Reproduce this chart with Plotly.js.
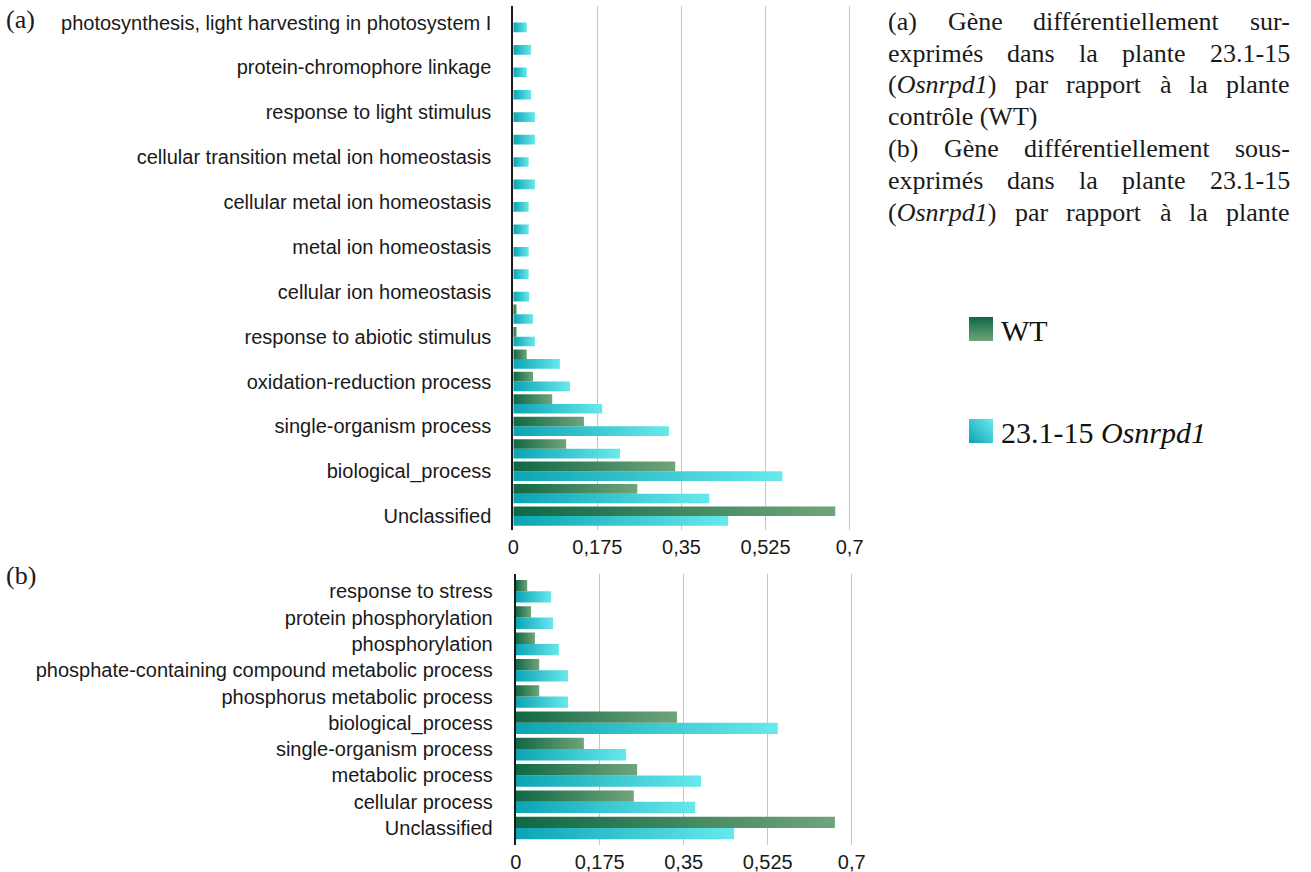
<!DOCTYPE html>
<html>
<head>
<meta charset="utf-8">
<script src="https://cdn.plot.ly/plotly-3.0.1.min.js"></script>
<style>
  html, body { margin: 0; padding: 0; background: #ffffff; }
  #chart { width: 1311px; height: 872px; }
</style>
</head>
<body>
<div id="chart"></div>
<script>
// ---------------- DATA ----------------
// Panel (a): over-expressed genes, categories listed bottom -> top.
// Only every other category label is printed in the original figure.
const categoriesA = [
  "Unclassified",
  "(unlabelled a2)",
  "biological_process",
  "(unlabelled a4)",
  "single-organism process",
  "(unlabelled a6)",
  "oxidation-reduction process",
  "(unlabelled a8)",
  "response to abiotic stimulus",
  "(unlabelled a10)",
  "cellular ion homeostasis",
  "(unlabelled a12)",
  "metal ion homeostasis",
  "(unlabelled a14)",
  "cellular metal ion homeostasis",
  "(unlabelled a16)",
  "cellular transition metal ion homeostasis",
  "(unlabelled a18)",
  "response to light stimulus",
  "(unlabelled a20)",
  "protein-chromophore linkage",
  "(unlabelled a22)",
  "photosynthesis, light harvesting in photosystem I"
];
const labelledA = [
  "Unclassified", "biological_process", "single-organism process",
  "oxidation-reduction process", "response to abiotic stimulus",
  "cellular ion homeostasis", "metal ion homeostasis",
  "cellular metal ion homeostasis", "cellular transition metal ion homeostasis",
  "response to light stimulus", "protein-chromophore linkage",
  "photosynthesis, light harvesting in photosystem I"
];
const wtA = [0.670, 0.258, 0.337, 0.110, 0.147, 0.081, 0.041, 0.028, 0.007, 0.007,
             0, 0, 0, 0, 0, 0, 0, 0, 0, 0, 0, 0, 0];
const osA = [0.447, 0.408, 0.560, 0.222, 0.324, 0.185, 0.118, 0.097, 0.045, 0.041,
             0.033, 0.032, 0.032, 0.032, 0.032, 0.045, 0.032, 0.045, 0.045, 0.037,
             0.028, 0.037, 0.028];

// Panel (b): under-expressed genes, bottom -> top.
const categoriesB = [
  "Unclassified",
  "cellular process",
  "metabolic process",
  "single-organism process",
  "biological_process",
  "phosphorus metabolic process",
  "phosphate-containing compound metabolic process",
  "phosphorylation",
  "protein phosphorylation",
  "response to stress"
];
const wtB = [0.665, 0.246, 0.253, 0.142, 0.336, 0.049, 0.049, 0.040, 0.032, 0.024];
const osB = [0.455, 0.374, 0.386, 0.230, 0.546, 0.109, 0.109, 0.090, 0.078, 0.074];

const xTickVals = [0, 0.175, 0.35, 0.525, 0.7];
const xTickText = ["0", "0,175", "0,35", "0,525", "0,7"];

const seriesNames = ["WT", "23.1-15 <i>Osnrpd1</i>"];

const captionLines = [
  {text: "(a) Gène différentiellement sur-", justify: true},
  {text: "exprimés dans la plante 23.1-15", justify: true},
  {text: "(<i>Osnrpd1</i>) par rapport à la plante", justify: true},
  {text: "contrôle (WT)", justify: false},
  {text: "(b) Gène différentiellement sous-", justify: true},
  {text: "exprimés dans la plante 23.1-15", justify: true},
  {text: "(<i>Osnrpd1</i>) par rapport à la plante", justify: true}
];

// ---------------- LAYOUT HELPERS ----------------
const W = 1311, H = 872;
const px = v => v / W;
const py = v => 1 - v / H;

const WT_FALLBACK = "rgb(62,134,94)";
const OS_FALLBACK = "rgb(55,196,205)";

const sansFont = {family: "Liberation Sans, Arial, sans-serif", size: 20, color: "#1a1a1a"};
const serifFamily = "Liberation Serif";

function barTrace(cats, vals, name, color, xa, ya, show, group, rank) {
  return {
    type: "bar", orientation: "h",
    y: cats, x: vals, name: name,
    xaxis: xa, yaxis: ya,
    marker: {color: color, line: {width: 0}},
    showlegend: show, legendgroup: group, legendrank: rank,
    hoverinfo: "skip"
  };
}

// cyan trace first so it sits below the green one inside each group
const data = [
  barTrace(categoriesA, osA, seriesNames[1], OS_FALLBACK, "x", "y", true, "os", 2),
  barTrace(categoriesA, wtA, seriesNames[0], WT_FALLBACK, "x", "y", true, "wt", 1),
  barTrace(categoriesB, osB, seriesNames[1], OS_FALLBACK, "x2", "y2", false, "os", 2),
  barTrace(categoriesB, wtB, seriesNames[0], WT_FALLBACK, "x2", "y2", false, "wt", 1)
];

const xRangeMax = 0.705;
const zeroA = 513.3, unitA = 480.5;
const zeroB = 515.7, unitB = 480.0;

function xAxis(zero, unit, anchor) {
  return {
    domain: [px(zero), px(zero + xRangeMax * unit)],
    range: [0, xRangeMax],
    anchor: anchor,
    tickmode: "array", tickvals: xTickVals, ticktext: xTickText,
    showgrid: true, gridcolor: "#c6c6c6", gridwidth: 1.5,
    zeroline: false, showline: false, ticks: "",
    ticklabelstandoff: 3,
    tickfont: sansFont, fixedrange: true
  };
}
function yAxis(cats, labels, top, bottom, r0, r1, anchor, standoff) {
  return {
    domain: [py(bottom), py(top)],
    type: "category", categoryorder: "array", categoryarray: cats,
    range: [r0, r1], anchor: anchor,
    tickmode: "array", tickvals: labels, ticktext: labels,
    showline: true, linecolor: "#1a1a1a", linewidth: 2,
    showgrid: false, zeroline: false, ticks: "",
    ticklabelstandoff: standoff,
    tickfont: sansFont, fixedrange: true
  };
}

// ---------------- CAPTION (justified, word by word) ----------------
const capFontSize = 26;
const capLeft = 888, capRight = 1290;
const capY = [21, 53, 85, 117, 149, 181, 213];
const cnv = document.createElement("canvas").getContext("2d");
function measure(html) {
  const parts = html.split(/(<i>|<\/i>)/);
  let it = false, w = 0;
  parts.forEach(p => {
    if (p === "<i>") { it = true; return; }
    if (p === "</i>") { it = false; return; }
    if (!p) return;
    cnv.font = (it ? "italic " : "") + capFontSize + "px \"" + serifFamily + "\"";
    w += cnv.measureText(p).width;
  });
  return w;
}
const annotations = [];
captionLines.forEach((ln, i) => {
  const yy = py(capY[i]);
  const font = {family: serifFamily, size: capFontSize, color: "#1a1a1a"};
  if (!ln.justify) {
    annotations.push({xref: "paper", yref: "paper", x: px(capLeft), y: yy,
      xanchor: "left", yanchor: "middle", text: ln.text, showarrow: false,
      font: font, borderpad: 0, borderwidth: 0});
    return;
  }
  const words = ln.text.split(" ");
  const widths = words.map(measure);
  const total = widths.reduce((a, b) => a + b, 0);
  const gap = (capRight - capLeft - total) / (words.length - 1);
  let cur = capLeft;
  words.forEach((w, k) => {
    annotations.push({xref: "paper", yref: "paper", x: px(cur), y: yy,
      xanchor: "left", yanchor: "middle", text: w, showarrow: false,
      font: font, borderpad: 0, borderwidth: 0});
    cur += widths[k] + gap;
  });
});
// panel letters
annotations.push({xref: "paper", yref: "paper", x: px(6), y: py(19), xanchor: "left",
  yanchor: "middle", text: "(a)", showarrow: false, borderpad: 0, borderwidth: 0,
  font: {family: serifFamily, size: 26, color: "#1a1a1a"}});
annotations.push({xref: "paper", yref: "paper", x: px(6), y: py(575), xanchor: "left",
  yanchor: "middle", text: "(b)", showarrow: false, borderpad: 0, borderwidth: 0,
  font: {family: serifFamily, size: 26, color: "#1a1a1a"}});

const layout = {
  width: W, height: H,
  margin: {l: 0, r: 0, t: 0, b: 0},
  paper_bgcolor: "#ffffff", plot_bgcolor: "rgba(0,0,0,0)",
  barmode: "group", bargap: 0.14, bargroupgap: 0,
  separators: ", ",
  xaxis: xAxis(zeroA, unitA, "y"),
  yaxis: yAxis(categoriesA, labelledA, 6, 530, -0.62, 22.74, "x", 16),
  xaxis2: xAxis(zeroB, unitB, "y2"),
  yaxis2: yAxis(categoriesB, categoriesB, 574, 845, -0.646, 9.658, "x2", 17),
  showlegend: true,
  legend: {
    x: px(961), y: py(303), xanchor: "left", yanchor: "top",
    bgcolor: "rgba(0,0,0,0)", borderwidth: 0,
    font: {family: serifFamily, size: 30, color: "#111111"},
    traceorder: "grouped", tracegroupgap: 60
  },
  annotations: annotations
};

const gd = document.getElementById("chart");
Plotly.newPlot(gd, data, layout, {displayModeBar: false, staticPlot: true}).then(() => {
  const NS = "http://www.w3.org/2000/svg";
  const defs = gd.querySelector("svg.main-svg defs");
  function grad(id, x1, y1, x2, y2, c1, c2) {
    const g = document.createElementNS(NS, "linearGradient");
    g.setAttribute("id", id);
    g.setAttribute("x1", x1); g.setAttribute("y1", y1);
    g.setAttribute("x2", x2); g.setAttribute("y2", y2);
    [[0, c1], [1, c2]].forEach(([o, c]) => {
      const s = document.createElementNS(NS, "stop");
      s.setAttribute("offset", o); s.setAttribute("stop-color", c);
      g.appendChild(s);
    });
    defs.appendChild(g);
  }
  grad("gWT", 0, 0, 1, 0, "#0f6845", "#70a47a");
  grad("gOS", 0, 0, 1, 0, "#0ba4b4", "#67e9ec");
  grad("gWTleg", 0, 0, 0, 1, "#0f6845", "#70a47a");
  grad("gOSleg", 0, 1, 1, 0, "#0ba4b4", "#6ceaee");

  gd.querySelectorAll(".barlayer path").forEach(p => {
    const f = p.style.fill.replace(/\s/g, "");
    if (f === WT_FALLBACK.replace(/\s/g, "")) p.style.fill = "url(#gWT)";
    else if (f === OS_FALLBACK.replace(/\s/g, "")) p.style.fill = "url(#gOS)";
  });
  gd.querySelectorAll(".legend .legendpoints path").forEach(p => {
    const f = p.style.fill.replace(/\s/g, "");
    p.setAttribute("d", "M12,12H-12V-12H12Z");
    p.style.stroke = "none";
    if (f === WT_FALLBACK.replace(/\s/g, "")) p.style.fill = "url(#gWTleg)";
    else if (f === OS_FALLBACK.replace(/\s/g, "")) p.style.fill = "url(#gOSleg)";
  });
});
</script>
</body>
</html>
